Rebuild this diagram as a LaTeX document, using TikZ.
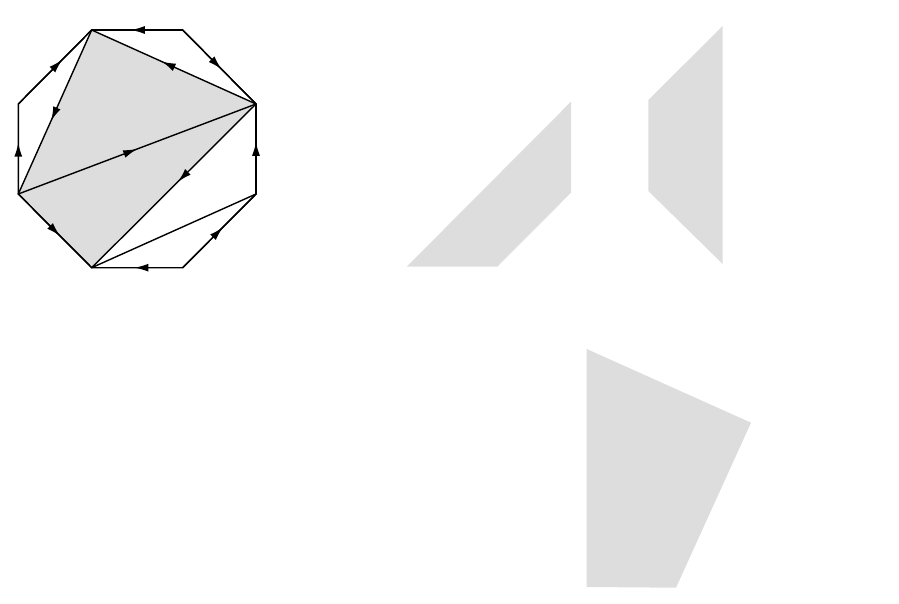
\documentclass[tikz,border=0pt]{standalone}
\usetikzlibrary{decorations.markings,arrows.meta}
\definecolor{shadegray}{RGB}{221,221,221}
\tikzset{
  edge/.style={line width=1.4pt, line join=miter, line cap=round},
  arr/.style={postaction={decorate},
    decoration={markings, mark=at position #1 with {\arrow{Latex[length=14pt,width=8pt]}}}},
  piece/.style={fill=shadegray, draw=none}
}
\begin{document}
\begin{tikzpicture}[x=1pt,y=-1pt]
\useasboundingbox (0,0) rectangle (899,604);
% octagon vertices
\coordinate (TL) at (91.7,30);
\coordinate (TR) at (182.7,30);
\coordinate (RU) at (256,104);
\coordinate (RL) at (256,194);
\coordinate (BR) at (182.7,267.7);
\coordinate (BL) at (91.7,267.7);
\coordinate (LL) at (18.3,194);
\coordinate (LU) at (18.3,104);
% shaded region
\fill[shadegray] (TL) -- (RU) -- (BL) -- (LL) -- cycle;
% outline
\draw[edge] (TL) -- (TR) -- (RU) -- (RL) -- (BR) -- (BL) -- (LL) -- (LU) -- cycle;
% arrows on edges
\draw[edge,arr=0.57] (TR) -- (TL);
\draw[edge,arr=0.53] (TR) -- (RU);
\draw[edge,arr=0.58] (RL) -- (RU);
\draw[edge,arr=0.55] (BR) -- (RL);
\draw[edge,arr=0.53] (BR) -- (BL);
\draw[edge,arr=0.57] (LL) -- (BL);
\draw[edge,arr=0.57] (LL) -- (LU);
\draw[edge,arr=0.60] (LU) -- (TL);
% diagonals
\draw[edge,arr=0.553] (TL) -- (LL);
\draw[edge,arr=0.574] (RU) -- (TL);
\draw[edge,arr=0.50] (LL) -- (RU);
\draw[edge,arr=0.475] (RU) -- (BL);
\draw[edge] (BL) -- (RL);
% pieces
\coordinate (A1) at (406.7,266.7);
\coordinate (A2) at (497.3,266.7);
\coordinate (A3) at (571,192.7);
\coordinate (A4) at (571,101.7);
\fill[piece] (A1) -- (A2) -- (A3) -- (A4) -- cycle;
\coordinate (B1) at (648.3,100);
\coordinate (B2) at (722.7,26);
\coordinate (B3) at (722.7,264);
\coordinate (B4) at (648.3,191);
\fill[piece] (B1) -- (B2) -- (B3) -- (B4) -- cycle;
\coordinate (C1) at (586.7,349);
\coordinate (C2) at (751,422.7);
\coordinate (C3) at (676,587.7);
\coordinate (C4) at (586.7,587);
\fill[piece] (C1) -- (C2) -- (C3) -- (C4) -- cycle;
\end{tikzpicture}
\end{document}
